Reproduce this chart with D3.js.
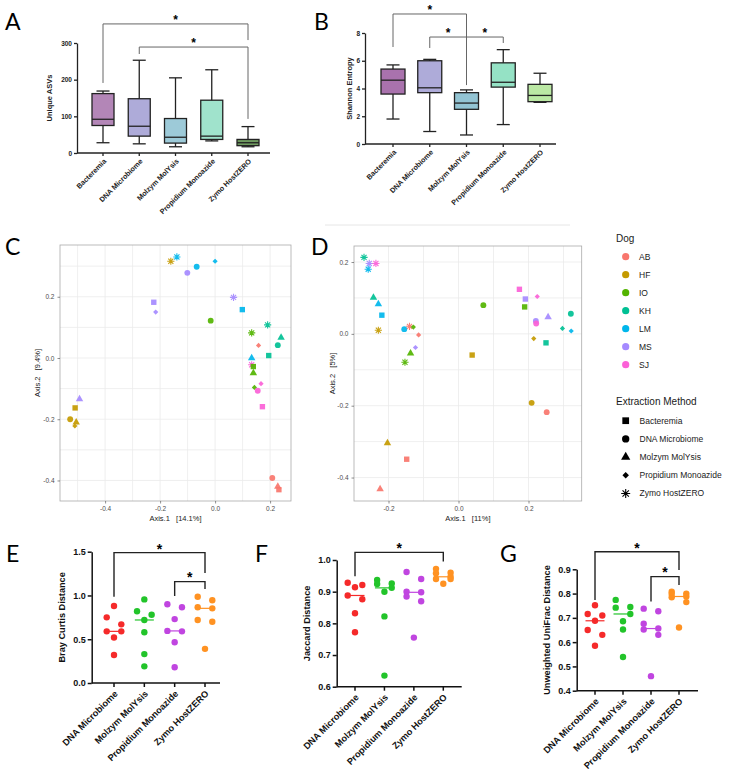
<!DOCTYPE html>
<html>
<head>
<meta charset="utf-8">
<script src="https://d3js.org/d3.v7.min.js"></script>
<style>
  body { margin: 0; background: #fff; }
  svg { font-family: "Liberation Sans", Arial, sans-serif; }
</style>
</head>
<body>
<div id="figure"></div>
<script>
// ---------- data ----------
var boxGroups = ["Bacteremia", "DNA Microbiome", "Molzym MolYsis", "Propidium Monoazide", "Zymo HostZERO"];
// min, q1, median, q3, max
var asvStats = [[28, 75, 92, 162, 169], [25, 46, 73, 148, 253], [17, 27, 43, 94, 205], [33, 37, 46, 144, 227], [17, 20, 28, 37, 72]];
var shannonStats = [[1.8, 3.6, 4.6, 5.4, 5.7], [0.9, 3.7, 4.05, 6.0, 6.1], [0.65, 2.5, 2.95, 3.7, 3.9], [1.4, 4.1, 4.45, 5.85, 6.8], [3.0, 3.05, 3.5, 4.3, 5.1]];
var asvColors = ["#b386b7", "#aeabd9", "#9dcad8", "#a0e3cc", "#6f9a60"];
var shannonColors = ["#a972ad", "#aeabd9", "#93c4d3", "#95e2c5", "#bbe8a4"];
// [from, to, bracket value, left leg value, right leg value]
var asvBrackets = [[0, 4, 352, 191, 308], [1, 4, 289, 270, 93]];
var shannonBrackets = [[0, 2, 9.37, 6.99, 4.25], [1, 2, 7.71, 6.92, 4.25], [2, 3, 7.71, 4.25, 7.28]];

var dogs = ["AB", "HF", "IO", "KH", "LM", "MS", "SJ"];
var dogColors = ["#F8766D", "#C49A00", "#53B400", "#00C094", "#00B6EB", "#A58AFF", "#FB61D7"];
var methodShapes = ["square", "circle", "triangle", "diamond", "star"];

// [dog, method index, Axis.1, Axis.2]
var pcoaBray = [
  ["HF", 4, -0.161, 0.316], ["LM", 4, -0.139, 0.330], ["LM", 1, -0.067, 0.298], ["LM", 3, 0.000, 0.316],
  ["MS", 1, -0.101, 0.278], ["MS", 0, -0.223, 0.182], ["MS", 3, -0.216, 0.150], ["IO", 1, -0.016, 0.122],
  ["MS", 4, 0.067, 0.198], ["LM", 0, 0.099, 0.158], ["KH", 4, 0.191, 0.108], ["IO", 4, 0.133, 0.082],
  ["AB", 3, 0.158, 0.041], ["KH", 2, 0.240, 0.067], ["KH", 1, 0.228, 0.042], ["KH", 0, 0.195, 0.008],
  ["LM", 2, 0.133, 0.000], ["SJ", 4, 0.133, -0.022], ["IO", 0, 0.139, -0.028], ["IO", 2, 0.139, -0.049],
  ["IO", 3, 0.143, -0.096], ["SJ", 3, 0.167, -0.084], ["SJ", 1, 0.155, -0.107], ["SJ", 0, 0.172, -0.159],
  ["MS", 2, -0.493, -0.134], ["HF", 0, -0.509, -0.163], ["HF", 1, -0.527, -0.200], ["HF", 2, -0.505, -0.210],
  ["HF", 3, -0.510, -0.222], ["AB", 1, 0.208, -0.392], ["AB", 2, 0.228, -0.420], ["AB", 0, 0.232, -0.430]
];
var pcoaJaccard = [
  ["KH", 4, -0.270, 0.213], ["MS", 4, -0.255, 0.196], ["SJ", 4, -0.236, 0.196], ["LM", 4, -0.258, 0.180],
  ["KH", 2, -0.243, 0.101], ["LM", 2, -0.229, 0.083], ["LM", 0, -0.219, 0.052], ["HF", 4, -0.229, 0.010],
  ["LM", 1, -0.155, 0.013], ["AB", 4, -0.140, 0.021], ["IO", 3, -0.129, 0.019], ["AB", 3, -0.114, -0.003],
  ["MS", 3, -0.123, -0.038], ["IO", 2, -0.137, -0.054], ["IO", 4, -0.153, -0.079], ["HF", 0, 0.039, -0.059],
  ["IO", 1, 0.071, 0.080], ["SJ", 0, 0.174, 0.124], ["MS", 0, 0.191, 0.097], ["IO", 0, 0.189, 0.075],
  ["SJ", 3, 0.225, 0.104], ["MS", 1, 0.221, 0.036], ["SJ", 1, 0.222, 0.029], ["MS", 2, 0.256, 0.047],
  ["HF", 3, 0.215, -0.013], ["KH", 0, 0.250, -0.025], ["HF", 1, 0.209, -0.192], ["AB", 1, 0.252, -0.218],
  ["KH", 1, 0.321, 0.056], ["KH", 3, 0.297, 0.015], ["LM", 3, 0.322, 0.008], ["HF", 2, -0.203, -0.304],
  ["AB", 0, -0.148, -0.349], ["AB", 2, -0.224, -0.432]
];

var dotGroups = ["DNA Microbiome", "Molzym MolYsis", "Propidium Monoazide", "Zymo HostZERO"];
var dotColors = ["#f52a2a", "#22c42a", "#c045e0", "#ff9222"];
var brayValues = [[0.88, 0.75, 0.67, 0.59, 0.59, 0.52, 0.32], [0.955, 0.82, 0.78, 0.72, 0.58, 0.33, 0.19],
                  [0.90, 0.865, 0.73, 0.595, 0.59, 0.465, 0.18], [0.985, 0.945, 0.865, 0.853, 0.72, 0.70, 0.39]];
var jaccardValues = [[0.928, 0.921, 0.914, 0.888, 0.876, 0.832, 0.772], [0.937, 0.926, 0.924, 0.912, 0.90, 0.822, 0.635],
                     [0.962, 0.94, 0.90, 0.898, 0.885, 0.87, 0.755], [0.972, 0.96, 0.958, 0.947, 0.94, 0.94, 0.925]];
var unifracValues = [[0.752, 0.716, 0.710, 0.688, 0.650, 0.630, 0.585], [0.774, 0.745, 0.742, 0.716, 0.686, 0.652, 0.539],
                     [0.738, 0.727, 0.676, 0.656, 0.652, 0.630, 0.460], [0.808, 0.800, 0.798, 0.788, 0.785, 0.765, 0.66]];
var brayBrackets = [[0, 3, 1.489, 0.986, 1.257], [2, 3, 1.158, 0.994, 1.074]];
var jaccardBrackets = [[0, 3, 1.024, 0.949, 0.995]];
var unifracBrackets = [[0, 3, 0.972, 0.774, 0.897], [2, 3, 0.870, 0.767, 0.835]];

// ---------- svg ----------
var width = 733, height = 780;
var svg = d3.select('#figure').append('svg')
      .attr('width', width)
      .attr('height', height);

// panel letters
[["A", 5, 30], ["B", 314, 30], ["C", 5, 255], ["D", 311, 255], ["E", 6, 562], ["F", 255, 562], ["G", 500, 562]]
  .forEach(function (l) {
    svg.append('text').attr('x', l[1]).attr('y', l[2])
      .style('font-family', 'Lato, "Liberation Sans", sans-serif')
      .style('font-size', '23px').text(l[0]);
  });

function drawBrackets(g, list, x, y, groups, color, width, starSize) {
  list.forEach(function (b) {
    var x1 = x(groups[b[0]]), x2 = x(groups[b[1]]);
    var yb = y(b[2]);
    g.append('path')
      .attr('d', 'M' + x1 + ',' + y(b[3]) + 'V' + yb + 'H' + x2 + 'V' + y(b[4]))
      .attr('fill', 'none').attr('stroke', color).attr('stroke-width', width);
    g.append('text')
      .attr('x', (x1 + x2) / 2).attr('y', yb - 7 + starSize * 0.56)
      .attr('text-anchor', 'middle')
      .style('font-size', starSize + 'px').style('font-weight', 'bold')
      .text('*');
  });
}

function styleAxis(sel, fontSize, color, sw) {
  sel.selectAll('path, line').attr('stroke', color).attr('stroke-width', sw);
  sel.selectAll('text').style('font-size', fontSize + 'px').style('font-weight', 'bold').attr('fill', color);
}

function categoryAxis(g, groups, x, x0, xEnd, y0, fontSize, color, sw, tick, labelDy) {
  g.append('line').attr('x1', x0).attr('x2', xEnd).attr('y1', y0).attr('y2', y0)
    .attr('stroke', color).attr('stroke-width', sw);
  groups.forEach(function (c) {
    g.append('line').attr('x1', x(c)).attr('x2', x(c)).attr('y1', y0).attr('y2', y0 + tick)
      .attr('stroke', color).attr('stroke-width', sw);
    g.append('text')
      .attr('transform', 'translate(' + (x(c) + 2) + ',' + (y0 + labelDy) + ') rotate(-45)')
      .attr('text-anchor', 'end').attr('dy', '0.35em')
      .style('font-size', fontSize + 'px').style('font-weight', 'bold').attr('fill', color)
      .text(c);
  });
}

// ---------- box plots (A, B) ----------
function boxPanel(cfg) {
  var g = svg.append('g');
  var x = d3.scalePoint().domain(boxGroups).range(cfg.xr);
  var y = d3.scaleLinear().domain(cfg.yd).range(cfg.yr);

  cfg.stats.forEach(function (s, i) {
    var cx = x(boxGroups[i]);
    g.append('line').attr('x1', cx).attr('x2', cx).attr('y1', y(s[0])).attr('y2', y(s[4]))
      .attr('stroke', '#222').attr('stroke-width', 1.3);
    [s[0], s[4]].forEach(function (v) {
      g.append('line').attr('x1', cx - cfg.cw / 2).attr('x2', cx + cfg.cw / 2).attr('y1', y(v)).attr('y2', y(v))
        .attr('stroke', '#222').attr('stroke-width', 1.3);
    });
    g.append('rect')
      .attr('x', cx - cfg.bw / 2).attr('width', cfg.bw)
      .attr('y', y(s[3])).attr('height', y(s[1]) - y(s[3]))
      .attr('fill', cfg.colors[i]).attr('stroke', '#222').attr('stroke-width', 1.3);
    g.append('line').attr('x1', cx - cfg.bw / 2).attr('x2', cx + cfg.bw / 2).attr('y1', y(s[2])).attr('y2', y(s[2]))
      .attr('stroke', '#222').attr('stroke-width', 1.3);
  });

  var yAxis = g.append('g').attr('transform', 'translate(' + cfg.x0 + ',0)')
    .call(d3.axisLeft(y).tickValues(cfg.ticks).tickSize(3).tickSizeOuter(0).tickPadding(2));
  styleAxis(yAxis, 6.5, '#222', 1.3);

  categoryAxis(g, boxGroups, x, cfg.x0, cfg.xEnd, cfg.yr[0], 7.2, '#222', 1.3, 3, 7);

  g.append('text')
    .attr('transform', 'translate(' + cfg.labelX + ',' + ((cfg.yr[0] + cfg.yr[1]) / 2) + ') rotate(-90)')
    .attr('text-anchor', 'middle').attr('dy', '0.35em')
    .style('font-size', '7.5px').style('font-weight', 'bold').attr('fill', '#222')
    .text(cfg.label);

  drawBrackets(g, cfg.brackets, x, y, boxGroups, '#666', 1, 12);
}

boxPanel({ stats: asvStats, colors: asvColors, xr: [103, 248], x0: 77, xEnd: 270, yd: [0, 300], yr: [153, 43],
  ticks: [0, 100, 200, 300], bw: 22, cw: 13, label: 'Unique ASVs', labelX: 49, brackets: asvBrackets });
boxPanel({ stats: shannonStats, colors: shannonColors, xr: [393, 540], x0: 365, xEnd: 556, yd: [0, 8], yr: [144, 33],
  ticks: [0, 2, 4, 6, 8], bw: 24, cw: 13, label: 'Shannon Entropy', labelX: 349, brackets: shannonBrackets });

// ---------- PCoA (C, D) ----------
function shapePath(kind, s) {
  if (kind === 'star') {
    var r = 3.6 * s, q = r * 0.707;
    return 'M' + (-r) + ',0H' + r + 'M0,' + (-r) + 'V' + r +
      'M' + (-q) + ',' + (-q) + 'L' + q + ',' + q + 'M' + (-q) + ',' + q + 'L' + q + ',' + (-q);
  }
  if (kind === 'diamond') {
    var h = 2.6 * s;
    return 'M0,' + (-h) + 'L' + h + ',0L0,' + h + 'L' + (-h) + ',0Z';
  }
  if (kind === 'square') return d3.symbol(d3.symbolSquare, 29 * s * s)();
  if (kind === 'triangle') return d3.symbol(d3.symbolTriangle, 24 * s * s)();
  return d3.symbol(d3.symbolCircle, 27 * s * s)();
}

function drawShape(g, kind, color, tx, ty, s) {
  var p = g.append('path').attr('d', shapePath(kind, s))
    .attr('transform', 'translate(' + tx + ',' + ty + ')');
  if (kind === 'star') p.attr('fill', 'none').attr('stroke', color).attr('stroke-width', 1.1);
  else p.attr('fill', color);
  return p;
}

var dogColor = d3.scaleOrdinal().domain(dogs).range(dogColors);

function pcoaPanel(cfg) {
  var g = svg.append('g');
  var x = d3.scaleLinear().domain(cfg.xd).range([cfg.left, cfg.right]);
  var y = d3.scaleLinear().domain(cfg.yd).range([cfg.bottom, cfg.top]);

  cfg.xgrid.forEach(function (v) {
    g.append('line').attr('x1', x(v)).attr('x2', x(v)).attr('y1', cfg.top).attr('y2', cfg.bottom)
      .attr('stroke', '#ebebeb').attr('stroke-width', 0.8);
  });
  cfg.ygrid.forEach(function (v) {
    g.append('line').attr('y1', y(v)).attr('y2', y(v)).attr('x1', cfg.left).attr('x2', cfg.right)
      .attr('stroke', '#ebebeb').attr('stroke-width', 0.8);
  });
  g.append('rect').attr('x', cfg.left).attr('y', cfg.top)
    .attr('width', cfg.right - cfg.left).attr('height', cfg.bottom - cfg.top)
    .attr('fill', 'none').attr('stroke', '#aaa').attr('stroke-width', 0.8);

  var fmt = function (d) { return d.toFixed(1); };
  var xa = g.append('g').attr('transform', 'translate(0,' + cfg.bottom + ')')
    .call(d3.axisBottom(x).tickValues(cfg.xticks).tickSize(2.5).tickSizeOuter(0).tickFormat(fmt));
  var ya = g.append('g').attr('transform', 'translate(' + cfg.left + ',0)')
    .call(d3.axisLeft(y).tickValues(cfg.yticks).tickSize(2.5).tickSizeOuter(0).tickFormat(fmt));
  [xa, ya].forEach(function (a) {
    a.select('.domain').remove();
    a.selectAll('line').attr('stroke', '#444').attr('stroke-width', 0.6);
    a.selectAll('text').style('font-size', '6.5px').attr('fill', '#4d4d4d');
  });

  cfg.points.forEach(function (p) {
    drawShape(g, methodShapes[p[1]], dogColor(p[0]), x(p[2]), y(p[3]), 1).attr('opacity', 0.92);
  });

  g.append('text').attr('x', (cfg.left + cfg.right) / 2).attr('y', cfg.bottom + 20)
    .attr('text-anchor', 'middle').style('font-size', '7.5px').style('white-space', 'pre')
    .attr('fill', '#1a1a1a').text(cfg.xlabel);
  g.append('text')
    .attr('transform', 'translate(' + cfg.ylabelX + ',' + ((cfg.top + cfg.bottom) / 2) + ') rotate(-90)')
    .attr('text-anchor', 'middle').attr('dy', '0.35em')
    .style('font-size', '7.5px').style('white-space', 'pre')
    .attr('fill', '#1a1a1a').text(cfg.ylabel);
}

pcoaPanel({ points: pcoaBray, xd: [-0.564, 0.276], yd: [-0.467, 0.369], left: 60, right: 291, top: 245, bottom: 501,
  xticks: [-0.4, -0.2, 0, 0.2], yticks: [-0.4, -0.2, 0, 0.2],
  xgrid: [-0.5, -0.4, -0.3, -0.2, -0.1, 0, 0.1, 0.2], ygrid: [-0.4, -0.3, -0.2, -0.1, 0, 0.1, 0.2, 0.3],
  xlabel: 'Axis.1   [14.1%]', ylabel: 'Axis.2   [9.4%]', ylabelX: 37 });

svg.append('line').attr('x1', 325).attr('x2', 570).attr('y1', 225).attr('y2', 225)
  .attr('stroke', '#e6e6e6').attr('stroke-width', 1);

pcoaPanel({ points: pcoaJaccard, xd: [-0.2986, 0.352], yd: [-0.4653, 0.2446], left: 354, right: 581.7, top: 246, bottom: 501,
  xticks: [-0.2, 0, 0.2], yticks: [-0.4, -0.2, 0, 0.2],
  xgrid: [-0.2, -0.1, 0, 0.1, 0.2, 0.3], ygrid: [-0.4, -0.3, -0.2, -0.1, 0, 0.1, 0.2],
  xlabel: 'Axis.1   [11%]', ylabel: 'Axis.2   [5%]', ylabelX: 332 });

// legend
var leg = svg.append('g');
leg.append('text').attr('x', 616).attr('y', 242).style('font-size', '10px').attr('fill', '#1a1a1a').text('Dog');
dogs.forEach(function (d, i) {
  var yy = 256.7 + i * 18;
  leg.append('circle').attr('cx', 625.7).attr('cy', yy).attr('r', 3.6).attr('fill', dogColor(d));
  leg.append('text').attr('x', 639).attr('y', yy).attr('dy', '0.35em')
    .style('font-size', '8.5px').attr('fill', '#1a1a1a').text(d);
});
leg.append('text').attr('x', 616).attr('y', 405).style('font-size', '10px').attr('fill', '#1a1a1a').text('Extraction Method');
boxGroups.forEach(function (m, i) {
  var yy = 420.7 + i * 18.2;
  drawShape(leg, methodShapes[i], '#000', 625.7, yy, 1.25);
  leg.append('text').attr('x', 639.5).attr('y', yy).attr('dy', '0.35em')
    .style('font-size', '8.5px').attr('fill', '#1a1a1a').text(m);
});

// ---------- dot plots (E, F, G) ----------
// points close in value are paired left/right, single points stay centred
function rowLayout(values, y, d, thr) {
  var sorted = values.slice().sort(function (a, b) { return b - a; });
  var rows = [];
  sorted.forEach(function (v) {
    var last = rows[rows.length - 1];
    if (last && last.length < 2 && Math.abs(y(v) - y(last[0])) < thr) last.push(v);
    else rows.push([v]);
  });
  var out = [];
  rows.forEach(function (r) {
    r.forEach(function (v, i) { out.push({ v: v, dx: r.length === 1 ? 0 : (i === 0 ? -d : d) }); });
  });
  return out;
}

function dotPanel(cfg) {
  var g = svg.append('g');
  var x = d3.scalePoint().domain(dotGroups).range(cfg.xr);
  var y = d3.scaleLinear().domain(cfg.yd).range(cfg.yr);

  var yAxis = g.append('g').attr('transform', 'translate(' + cfg.x0 + ',0)')
    .call(d3.axisLeft(y).tickValues(cfg.ticks).tickSize(4).tickSizeOuter(0).tickPadding(2).tickFormat(d3.format('.1f')));
  styleAxis(yAxis, 9, '#111', 1.5);
  categoryAxis(g, dotGroups, x, cfg.x0, cfg.xEnd, cfg.yr[0], 9.2, '#111', 1.5, 4, 9);

  cfg.values.forEach(function (vals, i) {
    var cx = x(dotGroups[i]);
    rowLayout(vals, y, 7.3, 7.5).forEach(function (p) {
      g.append('circle').attr('cx', cx + p.dx).attr('cy', y(p.v)).attr('r', 3.2).attr('fill', dotColors[i]);
    });
    var med = d3.median(vals);
    g.append('line').attr('x1', cx - 9.5).attr('x2', cx + 9.5).attr('y1', y(med)).attr('y2', y(med))
      .attr('stroke', dotColors[i]).attr('stroke-width', 1.2);
  });

  g.append('text')
    .attr('transform', 'translate(' + cfg.labelX + ',' + ((cfg.yr[0] + cfg.yr[1]) / 2) + ') rotate(-90)')
    .attr('text-anchor', 'middle').attr('dy', '0.35em')
    .style('font-size', '9.2px').style('font-weight', 'bold').attr('fill', '#111')
    .text(cfg.label);

  drawBrackets(g, cfg.brackets, x, y, dotGroups, '#222', 1.4, 14);
}

dotPanel({ values: brayValues, xr: [114, 205], x0: 91.7, xEnd: 220, yd: [0, 1.5], yr: [683, 551.7],
  ticks: [0, 0.5, 1.0, 1.5], label: 'Bray Curtis Distance', labelX: 62, brackets: brayBrackets });
dotPanel({ values: jaccardValues, xr: [355, 443.3], x0: 336.7, xEnd: 461.7, yd: [0.6, 1.0], yr: [686.7, 560],
  ticks: [0.6, 0.7, 0.8, 0.9, 1.0], label: 'Jaccard Distance', labelX: 307, brackets: jaccardBrackets });
dotPanel({ values: unifracValues, xr: [595, 679], x0: 576.7, xEnd: 698, yd: [0.4, 0.9], yr: [690.7, 569.3],
  ticks: [0.4, 0.5, 0.6, 0.7, 0.8, 0.9], label: 'Unweighted UniFrac Distance', labelX: 547, brackets: unifracBrackets });
</script>
</body>
</html>
